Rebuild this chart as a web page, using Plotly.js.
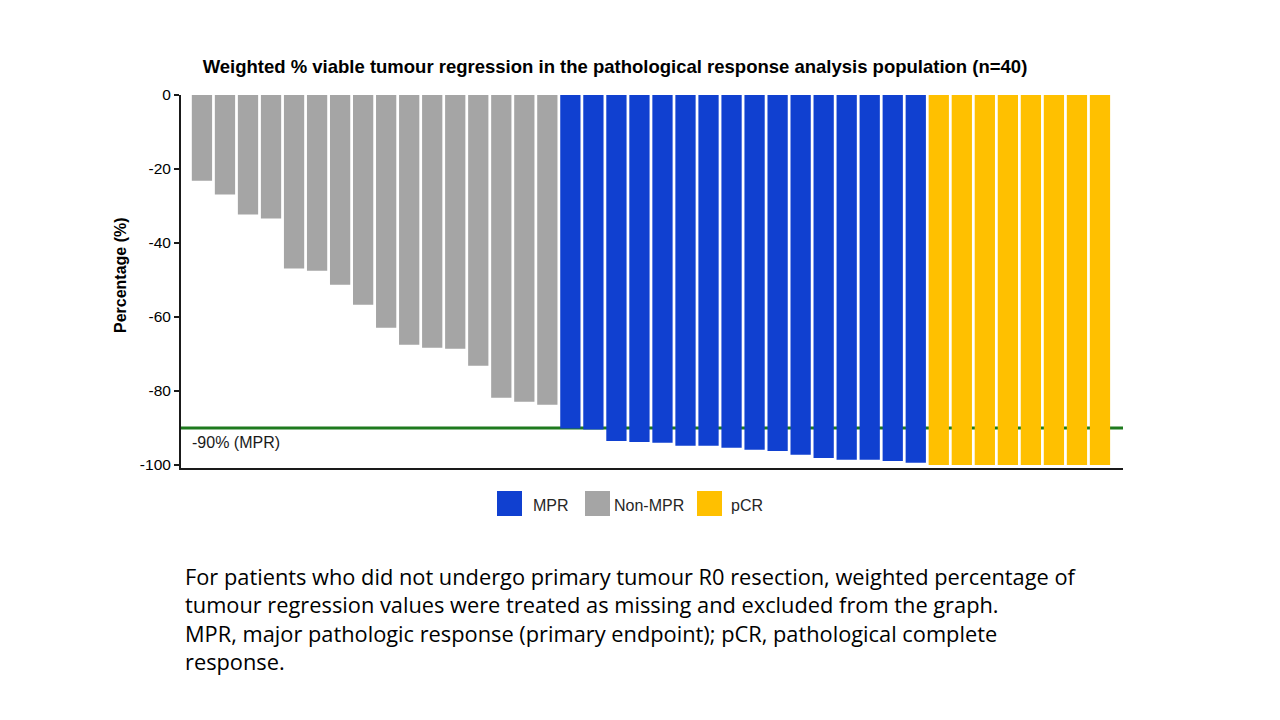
<!DOCTYPE html>
<html>
<head>
<meta charset="utf-8">
<script src="https://cdn.plot.ly/plotly-3.0.1.min.js"></script>
<style>
  html, body { margin: 0; padding: 0; background: #ffffff; }
  #chart { width: 1280px; height: 720px; }
</style>
</head>
<body>
<div id="chart"></div>
<script>
// ---- Data ----
const categories = ["MPR", "Non-MPR", "pCR"];
const categoryColors = ["#1040d0", "#a5a5a5", "#ffc000"];

const nonMprValues = [-23.2, -26.9, -32.3, -33.4, -46.9, -47.5, -51.3, -56.7,
                      -62.9, -67.5, -68.3, -68.6, -73.2, -81.8, -82.9, -83.7];
const mprValues = [-90.1, -90.4, -93.5, -93.8, -94.0, -94.8, -94.8, -95.3,
                   -95.9, -96.2, -97.2, -98.1, -98.6, -98.6, -98.9, -99.4];
const pcrValues = [-100, -100, -100, -100, -100, -100, -100, -100];

const mprThreshold = -90;
const thresholdLabel = "-90% (MPR)";
const yTicks = [0, -20, -40, -60, -80, -100];

const titleText = "Weighted % viable tumour regression in the pathological response analysis population (n=40)";
const yTitle = "Percentage (%)";
const footnoteLines = [
  "For patients who did not undergo primary tumour R0 resection, weighted percentage of",
  "tumour regression values were treated as missing and excluded from the graph.",
  "MPR, major pathologic response (primary endpoint); pCR, pathological complete",
  "response."
];

// ---- Build patient positions (sorted waterfall order) ----
const groups = [
  { name: "Non-MPR", values: nonMprValues },
  { name: "MPR", values: mprValues },
  { name: "pCR", values: pcrValues }
];
let idx = 0;
const traces = groups.map(g => {
  const xs = g.values.map(() => idx++);
  return {
    type: "bar",
    name: g.name,
    x: xs,
    y: g.values,
    marker: { color: categoryColors[categories.indexOf(g.name)], line: { width: 0 } },
    showlegend: false,
    hoverinfo: "y"
  };
});
const nBars = idx;

const font = "Liberation Sans, Arial, sans-serif";

// plot-area pixel geometry helpers (for layout placement only)
const L = 181, R = 1123, T = 95, B = 468;
const px = x => (x - L) / (R - L);
const py = y => (B - y) / (B - T);

// custom legend (large square swatches)
const legendShapes = [];
const legendAnn = [];
const swatchX = [497, 585, 697];
const labelX = [531, 612, 729];
categories.forEach((c, i) => {
  legendShapes.push({
    type: "rect", xref: "paper", yref: "paper",
    x0: px(swatchX[i]), x1: px(swatchX[i] + 25),
    y0: py(516), y1: py(491),
    fillcolor: categoryColors[i], line: { width: 0 }
  });
  legendAnn.push({
    xref: "paper", yref: "paper",
    x: px(labelX[i]), y: py(505),
    xanchor: "left", yanchor: "middle",
    text: c, showarrow: false,
    font: { family: font, size: 16, color: "#262626" }
  });
});

const footAnn = footnoteLines.map((line, i) => ({
  xref: "paper", yref: "paper",
  x: px(183), y: py(576 + i * 28.5),
  xanchor: "left", yanchor: "middle",
  text: line, showarrow: false,
  font: { family: "Open Sans, sans-serif", size: 21.8, color: "#000000" }
}));

const layout = {
  width: 1280, height: 720,
  paper_bgcolor: "#ffffff", plot_bgcolor: "#ffffff",
  margin: { l: L, r: 1280 - R, t: T, b: 720 - B },
  bargap: 0.12,
  title: {
    text: "<b>" + titleText + "</b>",
    x: 615 / 1280, xref: "container", xanchor: "center",
    y: 1 - 67 / 720, yref: "container", yanchor: "middle",
    font: { family: font, size: 18.5, color: "#000000" }
  },
  xaxis: {
    range: [-0.91, nBars],
    showticklabels: false, ticks: "",
    showgrid: false, zeroline: false,
    showline: true, linecolor: "#1a1a1a", linewidth: 2
  },
  yaxis: {
    range: [-100.8, 0],
    tickvals: yTicks, ticktext: yTicks.map(String),
    ticks: "outside", ticklen: 5, tickwidth: 2, tickcolor: "#1a1a1a",
    showgrid: false, zeroline: false,
    showline: true, linecolor: "#1a1a1a", linewidth: 2,
    tickfont: { family: font, size: 15.5, color: "#000000" }
  },
  shapes: [
    { type: "line", xref: "paper", yref: "y", layer: "below",
      x0: 0, x1: 1, y0: mprThreshold, y1: mprThreshold,
      line: { color: "#1e7a1e", width: 3 } }
  ].concat(legendShapes),
  annotations: [
    { xref: "paper", yref: "y", x: px(190), y: mprThreshold - 4,
      xanchor: "left", yanchor: "middle", showarrow: false, text: thresholdLabel,
      font: { family: font, size: 16, color: "#1a1a1a" } },
    { xref: "paper", yref: "paper", x: px(120), y: py(275),
      xanchor: "center", yanchor: "middle", showarrow: false, textangle: -90,
      text: "<b>" + yTitle + "</b>",
      font: { family: font, size: 16, color: "#000000" } }
  ].concat(legendAnn).concat(footAnn)
};

Plotly.newPlot("chart", traces, layout, { displayModeBar: false, staticPlot: true });
</script>
</body>
</html>
